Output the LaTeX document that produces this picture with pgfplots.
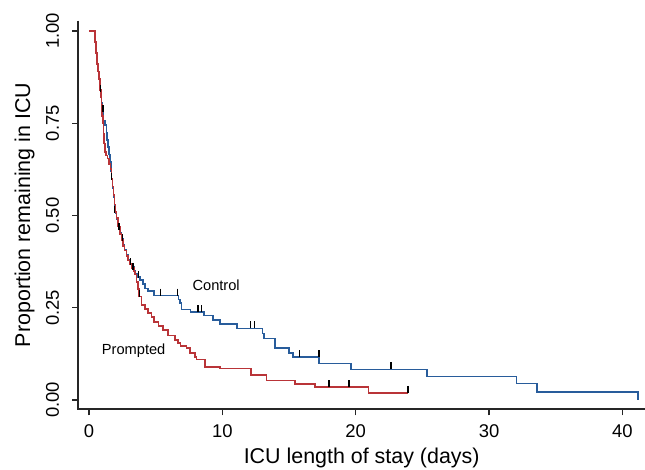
\documentclass[border=0pt]{standalone}
\usepackage{pgfplots}
\pgfplotsset{compat=1.18}
\usepackage{fontspec}
\setmainfont{Liberation Sans}
\definecolor{ctrl}{RGB}{40,92,155}
\definecolor{prom}{RGB}{185,52,56}
\begin{document}
\begin{tikzpicture}
\begin{axis}[
  name=ax,
  at={(0,0)}, anchor=south west,
  scale only axis,
  width=566.7bp, height=388.6bp,
  xmin=-0.81, xmax=41.7,
  ymin=-0.0252, ymax=1.0276,
  axis x line*=bottom, axis y line*=left,
  axis line style={black!85, line width=1.6bp, -},
  tick align=outside,
  major tick length=6bp,
  tick style={black!85, line width=1.3bp},
  xtick={0,10,20,30,40},
  ytick={0,0.25,0.5,0.75,1},
  yticklabels={0.00,0.25,0.50,0.75,1.00},
  /pgf/number format/assume math mode=true,
  ticklabel style={font=\fontsize{18.5}{20}\selectfont, inner sep=0pt},
  xticklabel style={anchor=north, yshift=-9bp},
  yticklabel style={xshift=-13.3bp, rotate=90, anchor=base},
  every axis x label/.style={at={(axis description cs:0.5,0)}, anchor=base, yshift=-54bp, font=\fontsize{21.5}{24}\selectfont},
  every axis y label/.style={at={(axis description cs:-0.0852,0.5)}, anchor=base, rotate=90, font=\fontsize{21.5}{24}\selectfont},
  xlabel={ICU length of stay (days)},
  ylabel={Proportion remaining in ICU},
  clip=false,
]
\draw[black!85, line width=1.8bp] (rel axis cs:0,1) -- (rel axis cs:0,0) -- (rel axis cs:1,0);
\addplot[const plot, ctrl, line width=1.7bp] coordinates {
(0,1) (0.45,0.97) (0.55,0.94) (0.62,0.91) (0.7,0.88) (0.78,0.855) (0.85,0.83) (0.93,0.805)
(1.0,0.78) (1.08,0.757) (1.18,0.745) (1.3,0.725) (1.36,0.705) (1.43,0.685) (1.5,0.665)
(1.56,0.645) (1.62,0.62) (1.68,0.597) (1.75,0.575) (1.82,0.55) (1.9,0.527) (1.97,0.507)
(2.05,0.49) (2.18,0.47) (2.3,0.452) (2.43,0.436) (2.55,0.42) (2.65,0.407) (2.8,0.392)
(2.93,0.38) (3.05,0.37) (3.2,0.36) (3.35,0.35) (3.45,0.342) (3.6,0.333) (3.8,0.325)
(4.05,0.315) (4.18,0.302) (4.43,0.295) (4.85,0.283) (6.7,0.272) (6.8,0.262) (6.93,0.245)
(7.6,0.238) (8.6,0.229) (9.3,0.216) (9.8,0.205) (11.1,0.194) (13.0,0.18) (13.1,0.167)
(13.93,0.14) (15.0,0.127) (15.3,0.116) (17.27,0.099) (19.65,0.083) (25.35,0.064)
(32.06,0.045) (33.6,0.022) (41.2,0.0)
};
\addplot[const plot, prom, line width=1.7bp] coordinates {
(0,1) (0.45,0.97) (0.52,0.94) (0.6,0.91) (0.68,0.89) (0.75,0.87) (0.82,0.84) (0.88,0.82)
(0.93,0.80) (0.98,0.77) (1.03,0.75) (1.08,0.72) (1.13,0.695) (1.18,0.672) (1.28,0.662)
(1.38,0.654) (1.5,0.64) (1.6,0.625) (1.68,0.60) (1.75,0.578) (1.82,0.555) (1.9,0.53)
(1.97,0.51) (2.05,0.493) (2.18,0.47) (2.3,0.45) (2.43,0.433) (2.55,0.418) (2.65,0.405)
(2.8,0.39) (2.93,0.378) (3.05,0.368) (3.2,0.358) (3.35,0.348) (3.45,0.34) (3.55,0.32)
(3.65,0.30) (3.75,0.28) (3.93,0.257) (4.18,0.247) (4.43,0.236) (4.68,0.224) (4.85,0.212)
(5.2,0.2) (5.55,0.19) (5.93,0.175) (6.43,0.163) (6.68,0.155) (6.85,0.146) (7.3,0.14)
(7.55,0.128) (7.93,0.117) (8.05,0.11) (8.7,0.09) (9.8,0.085) (12.15,0.068) (13.3,0.053)
(15.45,0.044) (16.95,0.035) (20.95,0.019) (23.93,0.019)
};
\addplot[only marks, mark=|, mark size=3.5bp, black, line width=1.3bp,
  mark options={yshift=3.5bp}] coordinates {
(0.88,0.835) (1.05,0.78) (1.68,0.597) (1.93,0.507) (2.25,0.46) (2.5,0.43) (3.1,0.365)
(3.3,0.352) (3.7,0.33) (3.8,0.28)
(5.38,0.283) (6.63,0.283) (8.18,0.238) (8.43,0.238) (12.13,0.194) (12.43,0.194)
(15.8,0.116) (17.25,0.116) (22.65,0.083)
(18.0,0.035) (19.5,0.035) (23.93,0.019)
};
\node[anchor=base, font=\fontsize{14.7}{16}\selectfont] at (axis cs:9.53,0.298) {Control};
\node[anchor=base, font=\fontsize{14.7}{16}\selectfont] at (axis cs:3.34,0.124) {Prompted};
\end{axis}
\path (ax.south west) ++(-78.3bp,-60.7bp) coordinate (bl);
\path (ax.south west) ++(566.7bp,409.3bp) coordinate (tr);
\pgfresetboundingbox
\path (bl) rectangle (tr);
\end{tikzpicture}
\end{document}
